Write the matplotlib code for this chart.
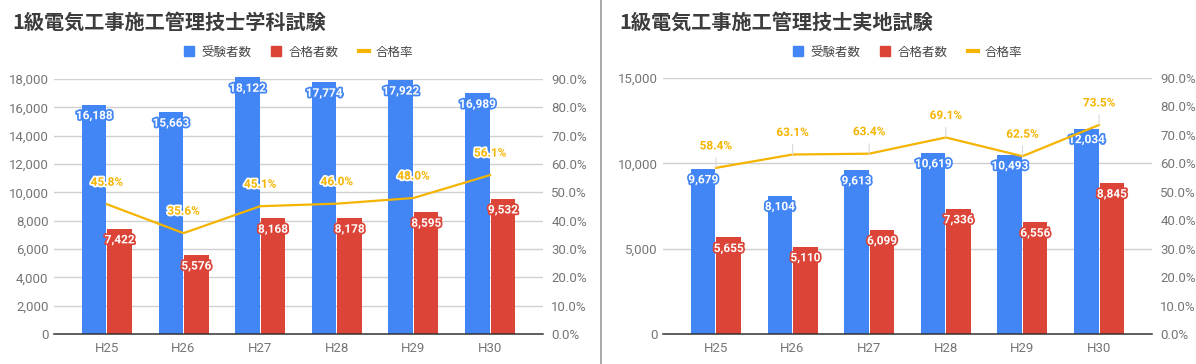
import matplotlib.pyplot as plt
import matplotlib.patheffects as pe
from matplotlib.patches import Patch
from matplotlib.lines import Line2D
from matplotlib.ticker import FuncFormatter, MultipleLocator

plt.rcParams['font.family'] = ['Roboto', 'Noto Sans CJK JP', 'DejaVu Sans']

# Data
years = ['H25', 'H26', 'H27', 'H28', 'H29', 'H30']

gakka_applicants = [16188, 15663, 18122, 17774, 17922, 16989]
gakka_passed = [7422, 5576, 8168, 8178, 8595, 9532]
gakka_rate = [45.8, 35.6, 45.1, 46.0, 48.0, 56.1]

jitchi_applicants = [9679, 8104, 9613, 10619, 10493, 12034]
jitchi_passed = [5655, 5110, 6099, 7336, 6556, 8845]
jitchi_rate = [58.4, 63.1, 63.4, 69.1, 62.5, 73.5]

BLUE = '#4285F4'
RED = '#DB4437'
ORANGE = '#F4B400'
TICK = '#757575'


def draw_panel(fig, rect, title, title_x, applicants, passed, rate, ymax, ystep, stems):
    ax = fig.add_axes(rect)
    x = range(len(years))
    w = 0.32
    off = 0.166
    xb = [i - off for i in x]
    xr = [i + off for i in x]
    ax.bar(xb, applicants, width=w, color=BLUE, zorder=2, clip_on=False)
    ax.bar(xr, passed, width=w, color=RED, zorder=2, clip_on=False)

    ax.set_xlim(-0.69, len(years) - 1 + 0.69)
    ax.set_ylim(0, ymax)
    ax.yaxis.set_major_locator(MultipleLocator(ystep))
    ax.yaxis.set_major_formatter(FuncFormatter(lambda v, p: f'{int(v):,}'))
    ax.set_xticks(list(x))
    ax.set_xticklabels(years)
    ax.grid(axis='y', color='#d0d0d0', linewidth=1, zorder=0)
    for s in ['top', 'left', 'right']:
        ax.spines[s].set_visible(False)
    ax.spines['bottom'].set_color('#333333')
    ax.spines['bottom'].set_linewidth(1.1)
    ax.spines['bottom'].set_zorder(3)
    ax.tick_params(axis='both', length=0, labelsize=9.5, labelcolor=TICK)
    ax.tick_params(axis='x', pad=6)
    ax.tick_params(axis='y', pad=4)

    for xs, vals, col in [(xb, applicants, BLUE), (xr, passed, RED)]:
        for xi, v in zip(xs, vals):
            ax.annotate(f'{v:,}', (xi, v), xytext=(0, -11), textcoords='offset pixels',
                        ha='center', va='center', fontsize=8.5, fontweight='bold',
                        color='white', zorder=5, annotation_clip=False,
                        path_effects=[pe.withStroke(linewidth=2.5, foreground=col)])

    ax2 = ax.twinx()
    ax2.set_ylim(0, 90)
    ax2.yaxis.set_major_locator(MultipleLocator(10))
    ax2.yaxis.set_major_formatter(FuncFormatter(lambda v, p: f'{v:.1f}%'))
    for s in ['top', 'left', 'right', 'bottom']:
        ax2.spines[s].set_visible(False)
    ax2.tick_params(axis='y', length=0, labelsize=9.5, labelcolor=TICK, pad=6)
    ax2.plot(list(x), rate, color=ORANGE, linewidth=1.6, zorder=3)
    for xi, v in zip(x, rate):
        arrow = None
        if stems:
            arrow = dict(arrowstyle='-', color='#d8d8d8', lw=0.8, shrinkA=2, shrinkB=0)
        ax2.annotate(f'{v:.1f}%', (xi, v), xytext=(0, 22), textcoords='offset pixels',
                     ha='center', va='center', fontsize=8.5, fontweight='bold',
                     color=ORANGE, zorder=6, annotation_clip=False,
                     path_effects=[pe.withStroke(linewidth=2.5, foreground='white')],
                     arrowprops=arrow)

    fig.text(title_x, 0.94, title, fontsize=14.5, fontweight='bold',
             color='#3c3c3c', family=['Noto Sans CJK JP', 'DejaVu Sans'],
             ha='left', va='center')

    handles = [Patch(color=BLUE, label='受験者数'),
               Patch(color=RED, label='合格者数'),
               Line2D([0], [0], color=ORANGE, linewidth=3, label='合格率')]
    cx = rect[0] + rect[2] / 2
    fig.legend(handles=handles, loc='center', bbox_to_anchor=(cx, 0.857),
               ncol=3, frameon=False, fontsize=9, labelcolor='#444444',
               handlelength=0.8, handleheight=0.8, handletextpad=0.6,
               columnspacing=1.6)


fig = plt.figure(figsize=(11.96, 3.64), dpi=100)
W, H = 1196, 364

draw_panel(fig, [54 / W, 30 / H, (543 - 54) / W, (334 - 79) / H],
           '1級電気工事施工管理技士学科試験', 12 / W,
           gakka_applicants, gakka_passed, gakka_rate, 18000, 2000, False)
draw_panel(fig, [663 / W, 30 / H, (1152 - 663) / W, (334 - 78) / H],
           '1級電気工事施工管理技士実地試験', 619 / W,
           jitchi_applicants, jitchi_passed, jitchi_rate, 15000, 5000, True)

fig.add_artist(Line2D([600.5 / W, 600.5 / W], [0, 1], color='#999999',
                      linewidth=1.2, transform=fig.transFigure))

fig.savefig('out.png', dpi=100)
